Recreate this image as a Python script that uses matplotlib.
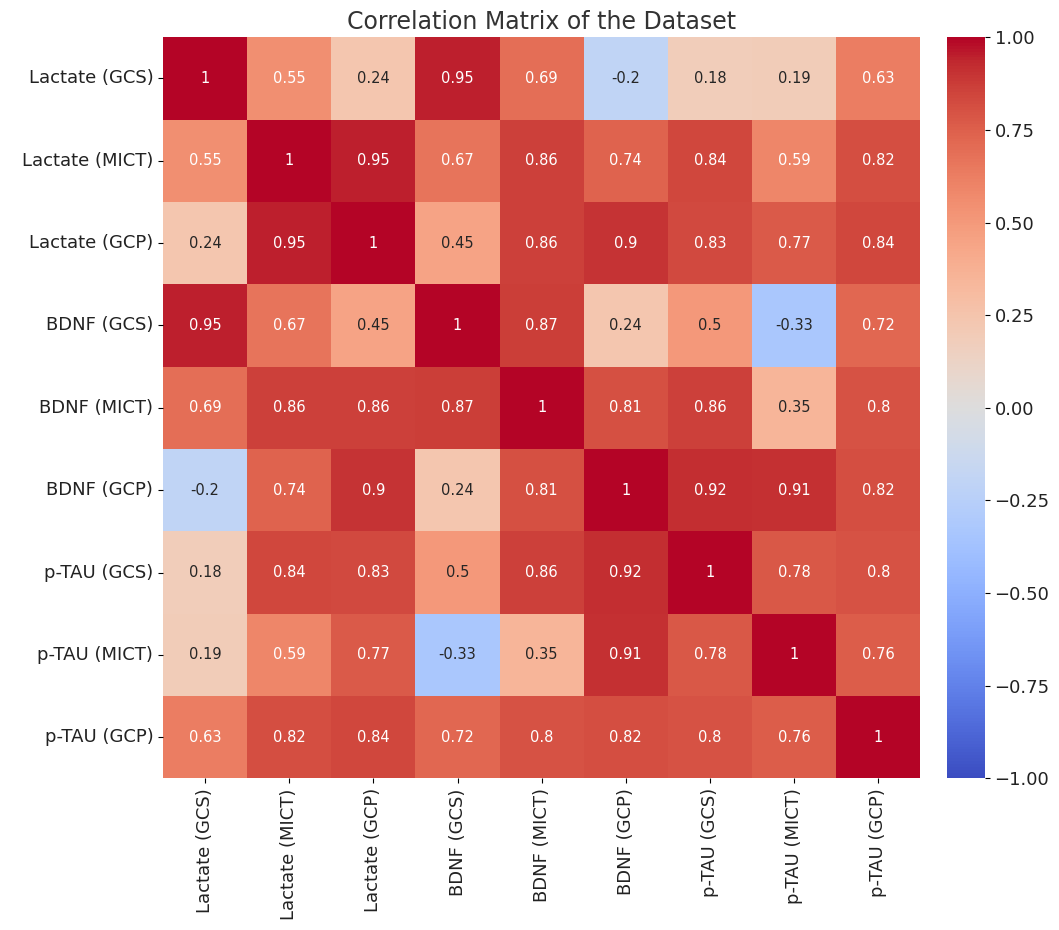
import matplotlib
matplotlib.use("Agg")
import matplotlib.pyplot as plt
import seaborn as sns
import numpy as np
import pandas as pd

labels = ["Lactate (GCS)", "Lactate (MICT)", "Lactate (GCP)",
          "BDNF (GCS)", "BDNF (MICT)", "BDNF (GCP)",
          "p-TAU (GCS)", "p-TAU (MICT)", "p-TAU (GCP)"]

row_lactate_gcs = [1, 0.55, 0.24, 0.95, 0.69, -0.2, 0.18, 0.19, 0.63]
row_lactate_mict = [0.55, 1, 0.95, 0.67, 0.86, 0.74, 0.84, 0.59, 0.82]
row_lactate_gcp = [0.24, 0.95, 1, 0.45, 0.86, 0.9, 0.83, 0.77, 0.84]
row_bdnf_gcs = [0.95, 0.67, 0.45, 1, 0.87, 0.24, 0.5, -0.33, 0.72]
row_bdnf_mict = [0.69, 0.86, 0.86, 0.87, 1, 0.81, 0.86, 0.35, 0.8]
row_bdnf_gcp = [-0.2, 0.74, 0.9, 0.24, 0.81, 1, 0.92, 0.91, 0.82]
row_ptau_gcs = [0.18, 0.84, 0.83, 0.5, 0.86, 0.92, 1, 0.78, 0.8]
row_ptau_mict = [0.19, 0.59, 0.77, -0.33, 0.35, 0.91, 0.78, 1, 0.76]
row_ptau_gcp = [0.63, 0.82, 0.84, 0.72, 0.8, 0.82, 0.8, 0.76, 1]

corr = pd.DataFrame([row_lactate_gcs, row_lactate_mict, row_lactate_gcp,
                     row_bdnf_gcs, row_bdnf_mict, row_bdnf_gcp,
                     row_ptau_gcs, row_ptau_mict, row_ptau_gcp],
                    index=labels, columns=labels)

fig = plt.figure(figsize=(10.59, 9.30), dpi=100)
ax = fig.add_axes([0.154, 0.163, 0.715, 0.797])
cax = fig.add_axes([0.894, 0.163, 0.036, 0.797])

sns.heatmap(corr, ax=ax, cbar_ax=cax, cmap="coolwarm", vmin=-1, vmax=1,
            annot=True, annot_kws={"size": 10.5})
ax.set_title("Correlation Matrix of the Dataset", fontsize=17, color="#333333")
ax.tick_params(axis="both", labelsize=13, labelcolor="#222222")
plt.setp(ax.get_xticklabels(), rotation=90)
plt.setp(ax.get_yticklabels(), rotation=0)
cax.tick_params(labelsize=13, labelcolor="#222222")
cax.set_yticks([-1, -0.75, -0.5, -0.25, 0, 0.25, 0.5, 0.75, 1])

fig.savefig("out.png", dpi=100)
